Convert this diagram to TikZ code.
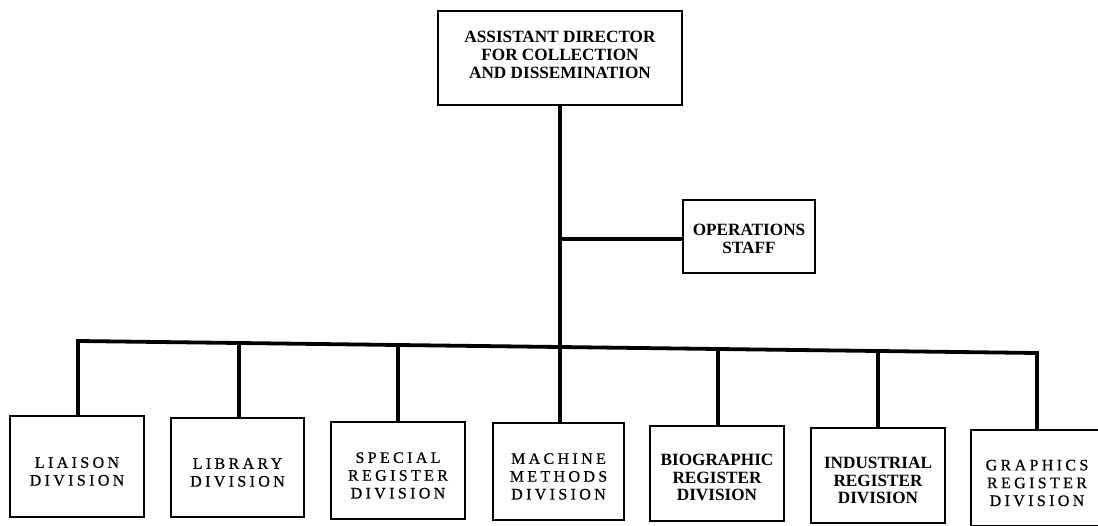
\documentclass[tikz,border=0pt]{standalone}
\usepackage{fontspec}
\setmainfont{Liberation Serif}
\newfontfamily\spacedfont[LetterSpace=21,FakeBold=0.6]{Liberation Serif}
\begin{document}
\begin{tikzpicture}[x=1pt,y=-1pt,
  box/.style={draw, line width=1.7pt, inner sep=0pt},
  conn/.style={line width=3.8pt},
  bld/.style={align=center,inner sep=0pt,font=\fontsize{17.2}{17.8}\selectfont\bfseries},
  spc/.style={align=center,inner sep=0pt,font=\spacedfont\fontsize{16}{17.8}\selectfont}]
\useasboundingbox (0,0) rectangle (1098,525);
% top
\node[box,minimum width=244pt,minimum height=94pt,
  label={[bld,yshift=3pt]center:ASSISTANT DIRECTOR\\FOR COLLECTION\\AND DISSEMINATION}] (top) at (560,58) {};
\node[box,minimum width=132pt,minimum height=73pt,
  label={[bld,yshift=-2pt]center:OPERATIONS\\STAFF}] (ops) at (749,236.5) {};
% bottom boxes
\node[box,minimum width=134pt,minimum height=101pt,
  label={[spc,yshift=-5pt]center:LIAISON\\DIVISION}] (b1) at (77,466.5) {};
\node[box,minimum width=133pt,minimum height=99pt,
  label={[spc,yshift=-5pt]center:LIBRARY\\DIVISION}] (b2) at (237.5,467.5) {};
\node[box,minimum width=134pt,minimum height=97pt,
  label={[spc,yshift=-5pt]center:SPECIAL\\REGISTER\\DIVISION}] (b3) at (398,470.5) {};
\node[box,minimum width=131pt,minimum height=97pt,
  label={[spc,yshift=-5pt]center:MACHINE\\METHODS\\DIVISION}] (b4) at (558.5,471.5) {};
\node[box,minimum width=134pt,minimum height=95pt,
  label={[bld,yshift=-4pt]center:BIOGRAPHIC\\REGISTER\\DIVISION}] (b5) at (717,473.5) {};
\node[box,minimum width=134pt,minimum height=95pt,
  label={[bld,yshift=-5pt]center:INDUSTRIAL\\REGISTER\\DIVISION}] (b6) at (878,475.5) {};
\node[box,minimum width=132pt,minimum height=96pt,
  label={[spc,yshift=-5pt]center:GRAPHICS\\REGISTER\\DIVISION}] (b7) at (1037,478) {};
% bus coordinates
\coordinate (j1) at (78,341);
\coordinate (j2) at (239,343);
\coordinate (j3) at (398,345);
\coordinate (j4) at (560,347);
\coordinate (j5) at (718,349);
\coordinate (j6) at (878,351);
\coordinate (j7) at (1037,353);
\coordinate (opj) at (560,239);
% connectors
\draw[conn,line cap=rect] (j1) -- (j2) -- (j3) -- (j4) -- (j5) -- (j6) -- (j7);
\draw[conn] (top.south) -- (j4);
\draw[conn] (opj) -- (opj -| ops.west);
\draw[conn] (j1) -- (j1 |- b1.north);
\draw[conn] (j2) -- (j2 |- b2.north);
\draw[conn] (j3) -- (j3 |- b3.north);
\draw[conn] (j4) -- (j4 |- b4.north);
\draw[conn] (j5) -- (j5 |- b5.north);
\draw[conn] (j6) -- (j6 |- b6.north);
\draw[conn] (j7) -- (j7 |- b7.north);
\end{tikzpicture}
\end{document}
